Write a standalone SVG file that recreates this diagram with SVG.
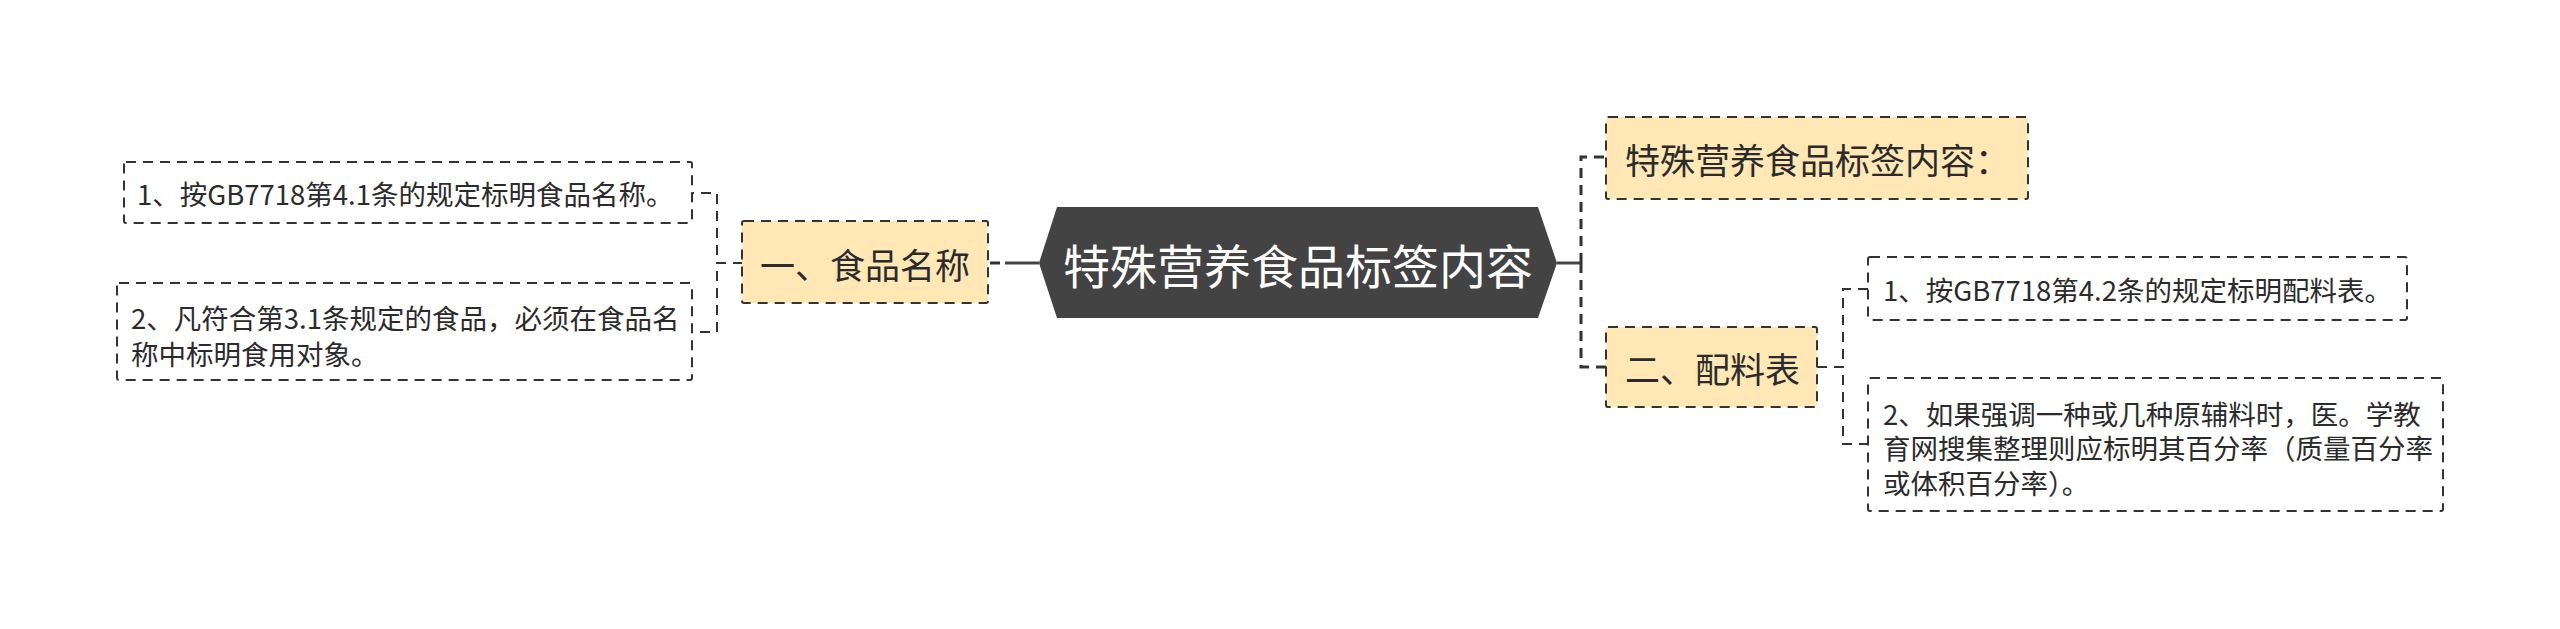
<svg xmlns="http://www.w3.org/2000/svg" width="2560" height="629" viewBox="0 0 2560 629">
<style>
.t{font-family:"Noto Sans CJK SC","Noto Sans",sans-serif;fill:#2b2b2b;dominant-baseline:central}
.leaf{fill:#fff;stroke:#333;stroke-width:2;stroke-dasharray:10 7}
.sub{fill:#FFE8B6;stroke:#333;stroke-width:2;stroke-dasharray:10 7}
.c{fill:none;stroke:#333;stroke-width:2;stroke-dasharray:10 7}
.cm{fill:none;stroke:#333;stroke-width:3;stroke-dasharray:10 7}
.cs{fill:none;stroke:#444;stroke-width:3}
</style>
<rect width="2560" height="629" fill="#fff"/>
<g id="connectors">
<path class="cs" d="M1039 263 H1005"/>
<path class="cm" d="M1000 263 H990"/>
<path class="cs" d="M1557 263 H1581"/>
<path class="cm" d="M1581 263 V157 H1606"/>
<path class="cm" d="M1581 263 V367 H1606"/>
<path class="c" d="M743 263 H717 V193 H692"/>
<path class="c" d="M743 263 H717 V332 H692"/>
<path class="c" d="M1817 367 H1843 V289 H1868"/>
<path class="c" d="M1817 367 H1843 V444 H1868"/>
</g>
<g id="root">
<polygon points="1039,263 1057,207 1538,207 1557,263 1538,318 1057,318" fill="#434343"/>
<text class="t" x="1298" y="263" font-size="47" text-anchor="middle" style="fill:#fff">特殊营养食品标签内容</text>
</g>
<g id="n-food-name">
<rect class="sub" x="742" y="221" width="246" height="82" rx="2"/>
<text class="t" x="865" y="263" font-size="35" text-anchor="middle">一、食品名称</text>
</g>
<g id="n-l1">
<rect class="leaf" x="124" y="162" width="568" height="61" rx="2"/>
<text class="t" x="137" y="193" font-size="27.5">1、按GB7718第4.1条的规定标明食品名称。</text>
</g>
<g id="n-l2">
<rect class="leaf" x="117" y="283" width="575" height="97" rx="2"/>
<text class="t" x="131" y="317" font-size="27.5">2、凡符合第3.1条规定的食品，必须在食品名</text>
<text class="t" x="131" y="353" font-size="27.5">称中标明食用对象。</text>
</g>
<g id="n-content">
<rect class="sub" x="1606" y="117" width="422" height="82" rx="2"/>
<text class="t" x="1625" y="158" font-size="35">特殊营养食品标签内容：</text>
</g>
<g id="n-ingredients">
<rect class="sub" x="1606" y="327" width="211" height="80" rx="2"/>
<text class="t" x="1625" y="367" font-size="35">二、配料表</text>
</g>
<g id="n-r1">
<rect class="leaf" x="1868" y="257" width="539" height="63" rx="2"/>
<text class="t" x="1883" y="289" font-size="27.5">1、按GB7718第4.2条的规定标明配料表。</text>
</g>
<g id="n-r2">
<rect class="leaf" x="1868" y="378" width="575" height="133" rx="2"/>
<text class="t" x="1883" y="413" font-size="27.5">2、如果强调一种或几种原辅料时，医。学教</text>
<text class="t" x="1883" y="447" font-size="27.5">育网搜集整理则应标明其百分率（质量百分率</text>
<text class="t" x="1883" y="482" font-size="27.5">或体积百分率）。</text>
</g>
</svg>
